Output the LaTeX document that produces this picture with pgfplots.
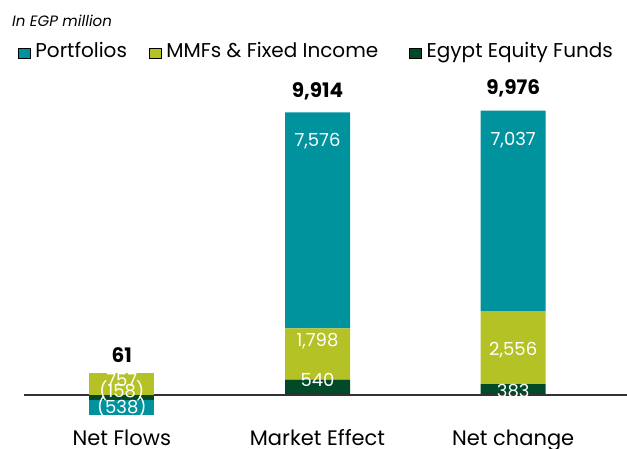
\documentclass[border=0pt]{standalone}
\usepackage{pgfplots}
\pgfplotsset{compat=1.18}
\usepackage{fontspec}
\setmainfont{Poppins}
\definecolor{cTeal}{RGB}{0,146,157}
\definecolor{cLime}{RGB}{180,194,38}
\definecolor{cDark}{RGB}{0,74,40}
\definecolor{cLine}{RGB}{50,50,50}
\pgfplotsset{
  base/.style={
    scale only axis, width=603pt, height=352pt,
    at={(24pt,26pt)}, anchor=south west,
    xmin=-0.4998, xmax=2.5815, ymin=-947.4, ymax=11403.5,
    enlargelimits=false, clip=false,
    axis line style={draw=none},
    xtick=\empty, ytick=\empty,
    tick style={draw=none},
  },
  seg/.style={
    fill=#1, draw=none, bar width=65pt,
    nodes near coords, point meta=explicit symbolic,
    visualization depends on={\thisrow{d} \as \dd},
    every node near coord/.style={anchor=center, yshift=\dd pt,
      font=\fontsize{18}{18}\selectfont, text=white, inner sep=0pt},
  },
}
\begin{document}
\begin{tikzpicture}
\path[use as bounding box] (0,0) rectangle (627pt,448pt);
\node[anchor=base west, inner sep=0pt] at (12pt,421pt) {\fontsize{15}{15}\selectfont\itshape In EGP million};
% Market Effect & Net change
\begin{axis}[base, ybar stacked,
  xtick={0,1,2}, xticklabels={Net Flows, Market Effect, Net change},
  xticklabel style={anchor=base, yshift=-23pt, font=\fontsize{21}{21}\selectfont, inner sep=0pt},
  legend columns=-1,
  legend style={draw=none, fill=none, inner sep=0pt, outer sep=0pt,
    at={(-0.00995,1.0219)}, anchor=south west,
    font=\fontsize{20}{20}\selectfont,
    nodes={inner sep=0pt, text height=15pt, text depth=5pt},
    /tikz/every odd column/.style={column sep=5pt},
    /tikz/column 2/.style={column sep=22pt},
    /tikz/column 4/.style={column sep=31pt}},
  legend image code/.code={\fill[#1] (0pt,-5.5pt) rectangle (12pt,4.5pt);},
]
\draw[cLine, line width=1.3pt] (axis cs:-0.4998,0) -- (axis cs:2.5815,0);
\addplot[seg=cDark, forget plot] table[x=x, y=y, meta=lab, row sep=\\] {
x y lab d\\
1 540 540 7\\
2 383 383 -1.5\\
};
\addplot[seg=cLime, forget plot] table[x=x, y=y, meta=lab, row sep=\\] {
x y lab d\\
1 1798 1,798 12.5\\
2 2556 2,556 -2.3\\
};
\addplot[seg=cTeal, forget plot] table[x=x, y=y, meta=lab, row sep=\\] {
x y lab d\\
1 7576 7,576 79\\
2 7037 7,037 70.5\\
};
\addlegendimage{fill=cTeal}
\addlegendentry{Portfolios}
\addlegendimage{fill=cLime}
\addlegendentry{MMFs \& Fixed Income}
\addlegendimage{fill=cDark}
\addlegendentry{Egypt Equity Funds}
\end{axis}
% Net Flows positive and totals
\begin{axis}[base]
\addplot[ybar, bar shift=0pt, seg=cLime] table[x=x, y=y, meta=lab, row sep=\\] {
x y lab d\\
0 757 757 -6.6\\
};
\addplot[draw=none, mark=none, nodes near coords, point meta=explicit symbolic,
  visualization depends on={\thisrow{d} \as \dd},
  every node near coord/.style={anchor=center, yshift=\dd pt, inner sep=0pt,
    font=\fontsize{20}{20}\selectfont\bfseries, text=black}]
  table[x=x, y=y, meta=lab, row sep=\\] {
x y lab d\\
0 757 61 18.4\\
1 9914 9,914 21\\
2 9976 9,976 22\\
};
\end{axis}
% Net Flows negatives
\begin{axis}[base, ybar stacked]
\addplot[seg=cDark] table[x=x, y=y, meta=lab, row sep=\\] {
x y lab d\\
0 -158 (158) 6\\
};
\addplot[seg=cTeal] table[x=x, y=y, meta=lab, row sep=\\] {
x y lab d\\
0 -538 (538) 0\\
};
\end{axis}
\end{tikzpicture}
\end{document}
